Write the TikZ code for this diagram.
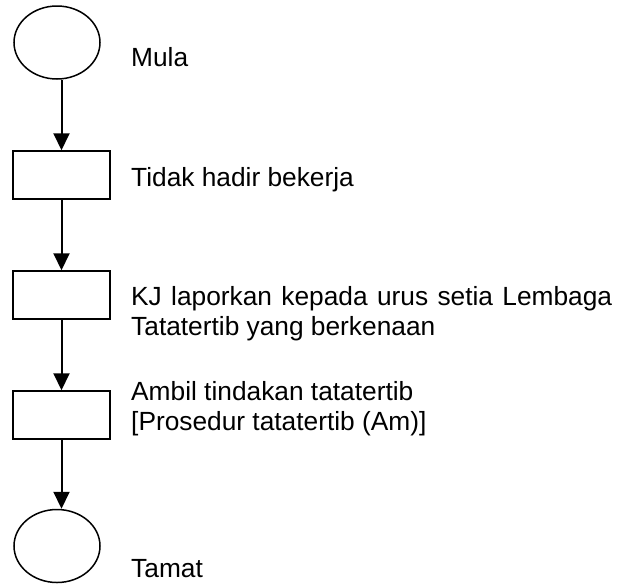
\documentclass[tikz,border=0pt]{standalone}
\usepackage{fontspec}
\setmainfont{Liberation Sans}
\usetikzlibrary{arrows.meta,shapes.geometric}
\begin{document}
\begin{tikzpicture}[x=1pt,y=-1pt,
  term/.style={draw,ellipse,line width=1.5pt,minimum width=86pt,minimum height=73pt,inner sep=0pt},
  stepbox/.style={draw,rectangle,line width=1.5pt,minimum width=97pt,minimum height=48pt,inner sep=0pt},
  lbl/.style={anchor=base west,inner sep=0pt,align=left,font=\fontsize{26.3}{29.5}\selectfont},
  flow/.style={line width=2pt,-{Triangle[length=17pt,width=16pt]}}]
\useasboundingbox (0,0) rectangle (631,584);
\node[term] (e1) at (57,42.5) {};
\node[stepbox] (b1) at (61.5,175) {};
\node[stepbox] (b2) at (61.5,295) {};
\node[stepbox] (b3) at (61.5,415) {};
\node[term] (e2) at (57,546) {};
\draw[flow] (e1.south -| b1.north) -- (b1.north);
\draw[flow] (b1.south) -- (b2.north);
\draw[flow] (b2.south) -- (b3.north);
\draw[flow] (b3.south) -- (b3.south |- e2.north);
\node[lbl] (t1) at (131,66) {Mula};
\node[lbl] (t2) at (131,186) {Tidak hadir bekerja};
\node[lbl] (t3) at (131,335) {\makebox[481pt][s]{KJ laporkan kepada urus setia Lembaga}\\Tatatertib yang berkenaan};
\node[lbl] (t4) at (131,430) {Ambil tindakan tatatertib\\{}[Prosedur tatatertib (Am)]};
\node[lbl] (t5) at (131,577) {Tamat};
\end{tikzpicture}
\end{document}
